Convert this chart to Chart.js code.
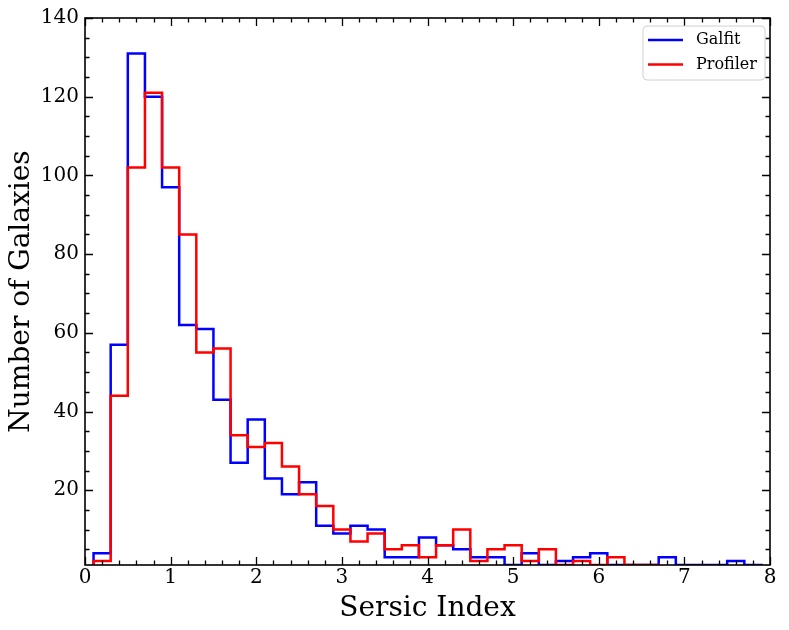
<!DOCTYPE html>
<html>
<head>
<meta charset="utf-8">
<script src="https://cdn.jsdelivr.net/npm/chart.js@4.4.1/dist/chart.umd.min.js"></script>
<style>
  html, body { margin: 0; padding: 0; background: #fff; }
  canvas { display: block; }
</style>
</head>
<body>
<canvas id="c" width="789" height="630"></canvas>
<script>
// Bin edges (Sersic index) and counts per bin
const binEdges = [0.1, 0.3, 0.5, 0.7, 0.9, 1.1, 1.3, 1.5, 1.7, 1.9,
                  2.1, 2.3, 2.5, 2.7, 2.9, 3.1, 3.3, 3.5, 3.7, 3.9,
                  4.1, 4.3, 4.5, 4.7, 4.9, 5.1, 5.3, 5.5, 5.7, 5.9,
                  6.1, 6.3, 6.5, 6.7, 6.9, 7.1, 7.3, 7.5, 7.7, 7.9];
const galfitCounts = [4, 57, 131, 120, 97, 62, 61, 43, 27, 38,
                      23, 19, 22, 11, 9, 11, 10, 3, 3, 8,
                      6, 5, 3, 3, 1, 4, 1, 2, 3, 4,
                      1, 1, 1, 3, 1, 1, 1, 2, 1];
const profilerCounts = [2, 44, 102, 121, 102, 85, 55, 56, 34, 31,
                        32, 26, 19, 16, 10, 7, 9, 5, 6, 3,
                        6, 10, 2, 5, 6, 2, 5, 1, 2, 1,
                        3, 1, 1, 0, 0, 0, 0, 0, 0];
const seriesNames = ['Galfit', 'Profiler'];
const seriesColors = ['#0000ff', '#ff0000'];
const xTickValues = [0, 1, 2, 3, 4, 5, 6, 7, 8];
const yTickValues = [20, 40, 60, 80, 100, 120, 140];

function stepPoints(edges, counts) {
  const pts = [{x: edges[0], y: 0}];
  counts.forEach((c, i) => pts.push({x: edges[i], y: c}));
  pts.push({x: edges[edges.length - 1], y: 0});
  return pts;
}

const FONT = "'DejaVu Serif', 'Liberation Serif', serif";

const frameTicks = {
  id: 'frameTicks',
  afterDatasetsDraw(chart) {
    const {ctx, chartArea: a, scales: {x, y}} = chart;
    const MAJ = 8, MIN = 4.5;
    ctx.save();
    ctx.strokeStyle = '#000';
    ctx.lineWidth = 1.3;
    ctx.beginPath();
    // x ticks (bottom & top)
    for (let i = 0; i <= 40; i++) {
      const v = i * 0.2;
      const len = (i % 5 === 0) ? MAJ : MIN;
      const px = Math.round(x.getPixelForValue(v)) + 0.5;
      ctx.moveTo(px, a.bottom); ctx.lineTo(px, a.bottom - len);
      ctx.moveTo(px, a.top); ctx.lineTo(px, a.top + len);
    }
    // y ticks (left & right)
    for (let v = 5; v <= 140; v += 5) {
      const len = (v % 20 === 0) ? MAJ : MIN;
      const py = Math.round(y.getPixelForValue(v)) + 0.5;
      ctx.moveTo(a.left, py); ctx.lineTo(a.left + len, py);
      ctx.moveTo(a.right, py); ctx.lineTo(a.right - len, py);
    }
    ctx.stroke();
    ctx.lineWidth = 1.6;
    ctx.strokeRect(a.left, a.top, a.right - a.left, a.bottom - a.top);

    // legend
    const bx = a.right - 127, by = a.top + 8, bw = 122, bh = 54, r = 4;
    ctx.beginPath();
    ctx.moveTo(bx + r, by);
    ctx.arcTo(bx + bw, by, bx + bw, by + bh, r);
    ctx.arcTo(bx + bw, by + bh, bx, by + bh, r);
    ctx.arcTo(bx, by + bh, bx, by, r);
    ctx.arcTo(bx, by, bx + bw, by, r);
    ctx.closePath();
    ctx.fillStyle = 'rgba(255,255,255,0.8)';
    ctx.fill();
    ctx.strokeStyle = '#d0d0d0';
    ctx.lineWidth = 1;
    ctx.stroke();
    ctx.font = '16px ' + FONT;
    ctx.textBaseline = 'middle';
    ctx.textAlign = 'left';
    chart.data.datasets.forEach((ds, i) => {
      const ly = by + 14 + i * 24.6;
      ctx.strokeStyle = ds.borderColor;
      ctx.lineWidth = 2.5;
      ctx.beginPath();
      ctx.moveTo(bx + 5, ly); ctx.lineTo(bx + 40, ly);
      ctx.stroke();
      ctx.fillStyle = '#000';
      ctx.fillText(ds.label, bx + 53, ly);
    });
    ctx.restore();
  }
};

new Chart(document.getElementById('c'), {
  type: 'line',
  data: {
    datasets: [
      { label: seriesNames[0], data: stepPoints(binEdges, galfitCounts),
        borderColor: seriesColors[0], borderWidth: 2.5, stepped: 'before',
        pointRadius: 0, fill: false, order: 1, borderJoinStyle: 'miter' },
      { label: seriesNames[1], data: stepPoints(binEdges, profilerCounts),
        borderColor: seriesColors[1], borderWidth: 2.5, stepped: 'before',
        pointRadius: 0, fill: false, order: 0, borderJoinStyle: 'miter' }
    ]
  },
  options: {
    responsive: false,
    animation: false,
    devicePixelRatio: 1,
    layout: { padding: { left: 0, top: 16, right: 19, bottom: 0 } },
    plugins: { legend: { display: false }, tooltip: { enabled: false } },
    scales: {
      x: {
        type: 'linear', min: 0, max: 8,
        afterBuildTicks: (s) => { s.ticks = xTickValues.map(v => ({value: v})); },
        afterFit: (s) => { s.height = 65; },
        ticks: { font: { family: FONT, size: 20 }, color: '#000', padding: 1, maxRotation: 0 },
        grid: { display: false, drawTicks: false },
        border: { display: false },
        title: { display: true, text: 'Sersic Index', color: '#000',
                 font: { family: FONT, size: 28 }, padding: { top: 0, bottom: 4 } }
      },
      y: {
        type: 'linear', min: 1, max: 140,
        afterBuildTicks: (s) => { s.ticks = yTickValues.map(v => ({value: v})); },
        afterFit: (s) => { s.width = 85; },
        ticks: { font: { family: FONT, size: 20 }, color: '#000', padding: 6 },
        grid: { display: false, drawTicks: false },
        border: { display: false },
        title: { display: true, text: 'Number of Galaxies', color: '#000',
                 font: { family: FONT, size: 28 }, padding: { top: 5, bottom: 0 } }
      }
    }
  },
  plugins: [frameTicks]
});
</script>
</body>
</html>
